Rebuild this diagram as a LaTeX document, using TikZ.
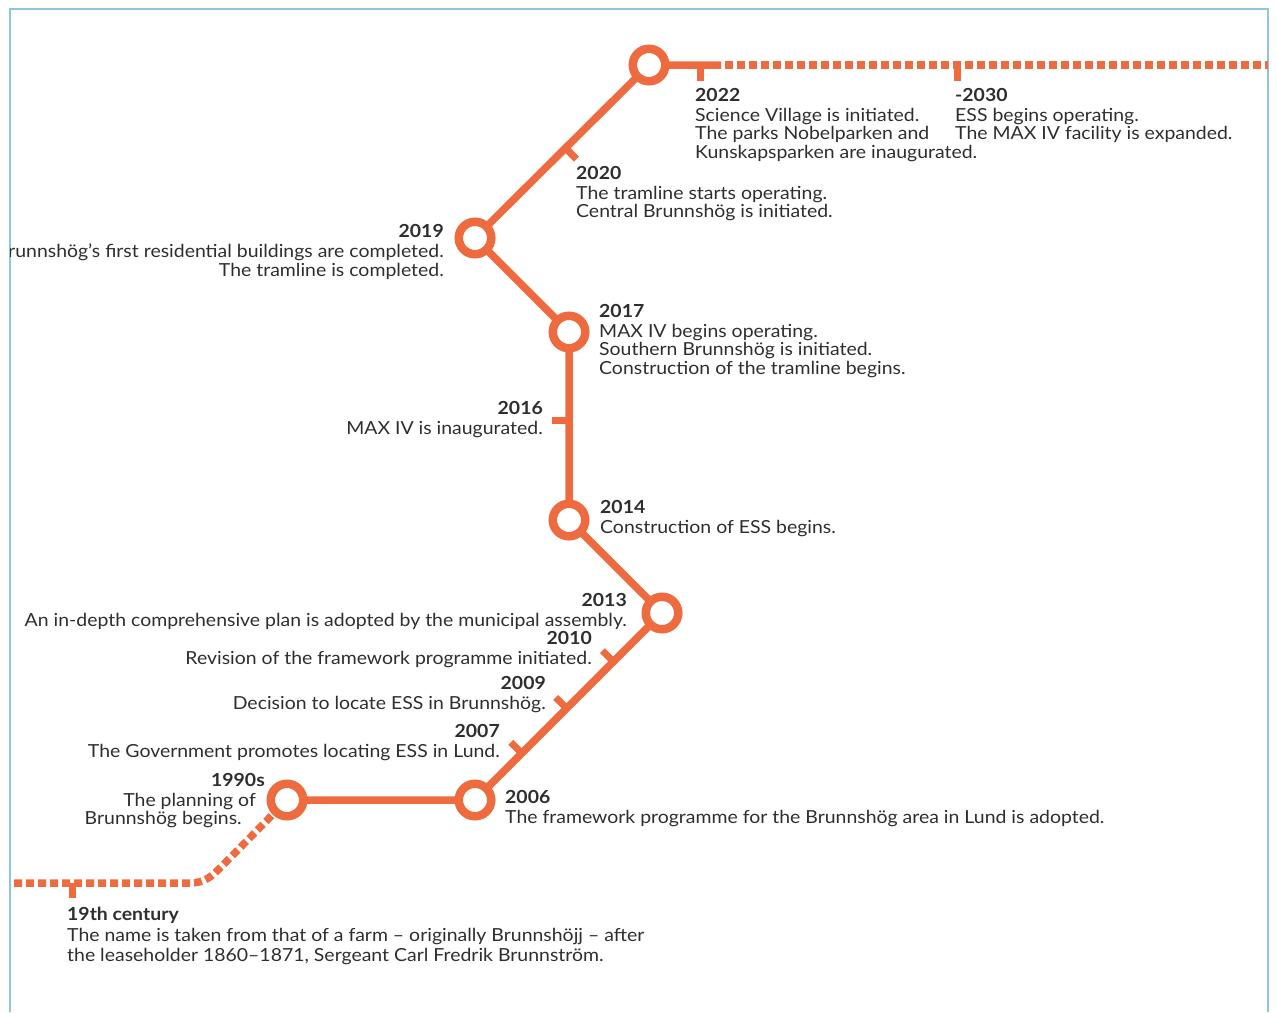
\documentclass[tikz,border=0pt]{standalone}
\usepackage{fontspec}
\setmainfont{Lato}[FakeStretch=1.08]
\usetikzlibrary{calc}
\definecolor{tl}{HTML}{EE6A3F}
\definecolor{ink}{HTML}{2E2E2E}
\definecolor{framec}{HTML}{8CC8D9}
\begin{document}
\begin{tikzpicture}[x=1pt,y=-1pt,
 track/.style={draw=tl,line width=7.5pt},
 future/.style={draw=tl,line width=7.5pt,dash pattern=on 8pt off 4pt},
 tickmark/.style={draw=tl,line width=7pt},
 ring/.style={circle,draw=tl,fill=white,line width=8.5pt,minimum size=32.5pt,inner sep=0pt},
 lbl/.style={inner sep=0pt,text=ink,font=\fontsize{18}{18.5}\selectfont},
 lblL/.style={lbl,anchor=north west,align=left},
 lblR/.style={lbl,anchor=north east,align=right},
 frameline/.style={draw=framec,line width=1.6pt}
]
\useasboundingbox (0,0) rectangle (1277,1012);
% frame
\coordinate (fbl) at (10,1012);
\coordinate (ftl) at (10,9);
\coordinate (ftr) at (1268,9);
\coordinate (fbr) at (1268,1012);
\draw[frameline] (fbl) -- (ftl) -- (ftr) -- (fbr);
% stations
\coordinate (p1990) at (287,800);
\coordinate (p2006) at (475,800);
\coordinate (p2013) at (662,613);
\coordinate (p2014) at (569,520);
\coordinate (p2017) at (569,332);
\coordinate (p2019) at (475,238);
\coordinate (p2022) at (649,65);
\coordinate (e2022) at (721,65);
\coordinate (d2022) at (725,65);
\coordinate (e2030) at (1268,65);
\coordinate (s19) at (14,883);
\coordinate (b19) at (190,883);
\coordinate (k19) at (222,866);
% track
\draw[future] (s19) -- (b19) .. controls (205,883) and (212,876) .. (k19) -- (p1990);
\draw[track] (p1990) -- (p2006) -- (p2013) -- (p2014) -- (p2017) -- (p2019) -- (p2022) -- (e2022);
\draw[future] (d2022) -- (e2030);
% ticks
\coordinate (t19) at (72,883);
\coordinate (t2022) at (700,65);
\coordinate (t2030) at (957,65);
\coordinate (t2016) at ($(p2017)!0.47!(p2014)$);
\coordinate (t2020) at ($(p2019)!0.52!(p2022)$);
\coordinate (t2007) at ($(p2006)!0.25!(p2013)$);
\coordinate (t2009) at ($(p2006)!0.49!(p2013)$);
\coordinate (t2010) at ($(p2006)!0.74!(p2013)$);
\draw[tickmark] (t19) -- ++(0,15);
\draw[tickmark] (t2022) -- ++(0,16);
\draw[tickmark] (t2030) -- ++(0,16);
\draw[tickmark] (t2016) -- ++(-17,0);
\draw[tickmark] (t2020) -- ++(11,11);
\draw[tickmark] (t2007) -- ++(-11,-11);
\draw[tickmark] (t2009) -- ++(-11,-11);
\draw[tickmark] (t2010) -- ++(-11,-11);
% rings
\foreach \p in {1990,2006,2013,2014,2017,2019,2022}
  \node[ring] (r\p) at (p\p) {};
% labels
\begin{scope}
\clip (10,0) rectangle (1277,1012);
\node[lblL] (n2022) at (695,88) {\strut\textbf{2022}\\Science Village is initiated.\\The parks Nobelparken and\\Kunskapsparken are inaugurated.};
\node[lblL] (n2030) at (955,88) {\strut\textbf{-2030}\\ESS begins operating.\\The MAX IV facility is expanded.};
\node[lblL] (n2020) at (576,166) {\strut\textbf{2020}\\The tramline starts operating.\\Central Brunnshög is initiated.};
\node[lblR] (n2019) at (444,224) {\strut\textbf{2019}\\Brunnshög’s first residential buildings are completed.\\The tramline is completed.};
\node[lblL] (n2017) at (599,304) {\strut\textbf{2017}\\MAX IV begins operating.\\Southern Brunnshög is initiated.\\Construction of the tramline begins.};
\node[lblR] (n2016) at (543,401) {\strut\textbf{2016}\\MAX IV is inaugurated.};
\node[lblL] (n2014) at (600,500) {\strut\textbf{2014}\\Construction of ESS begins.};
\node[lblR] (n2013) at (627,593) {\strut\textbf{2013}\\An in-depth comprehensive plan is adopted by the municipal assembly.};
\node[lblR] (n2010) at (592,631) {\strut\textbf{2010}\\Revision of the framework programme initiated.};
\node[lblR] (n2009) at (546,676) {\strut\textbf{2009}\\Decision to locate ESS in Brunnshög.};
\node[lblR] (n2007) at (500,724) {\strut\textbf{2007}\\The Government promotes locating ESS in Lund.};
\node[lblR] (n1990) at (265,773) {\strut\textbf{1990s}\\The planning of\hbox to 9pt{}\\Brunnshög begins.\hbox to 23pt{}};
\node[lblL] (n2006) at (505,790) {\strut\textbf{2006}\\The framework programme for the Brunnshög area in Lund is adopted.};
\node[lblL,font=\fontsize{18}{20.5}\selectfont] (n19) at (67,906) {\strut\textbf{19th century}\\The name is taken from that of a farm – originally Brunnshöjj – after\\the leaseholder 1860–1871, Sergeant Carl Fredrik Brunnström.};
\end{scope}
\end{tikzpicture}
\end{document}
